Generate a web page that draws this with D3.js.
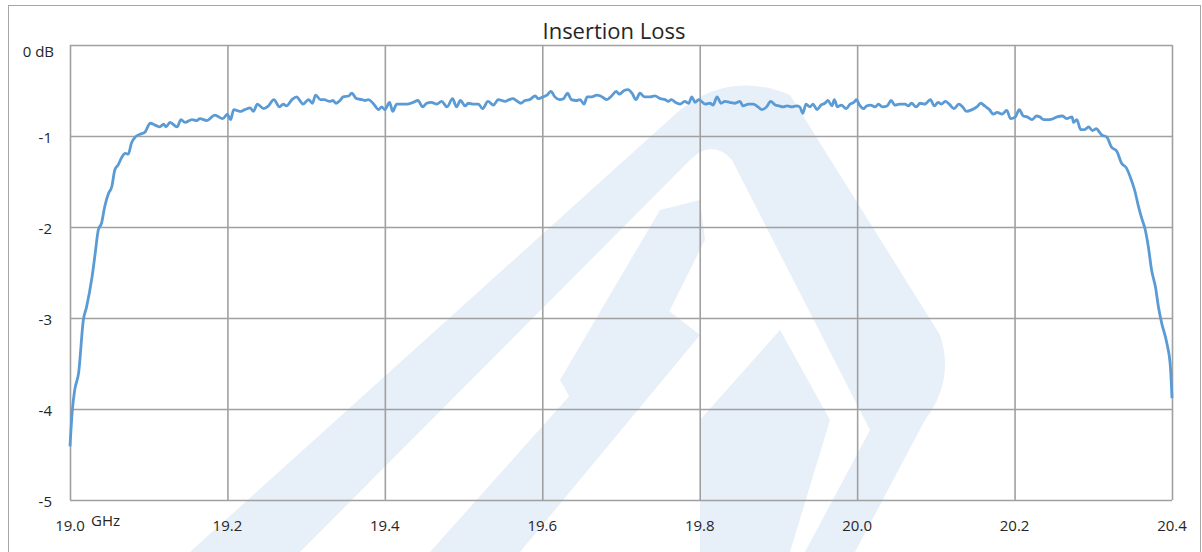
<!DOCTYPE html>
<html>
<head>
<meta charset="utf-8">
<script src="https://cdn.jsdelivr.net/npm/d3@7"></script>
<style>
  body { margin: 0; background: #fff; }
  svg text { font-family: "Open Sans", "Noto Sans", sans-serif; fill: #262626; }
</style>
</head>
<body>
<div id="chart"></div>
<script>
const freqGHz = [
  19.000,19.003,19.006,19.011,19.017,19.021,19.028,19.032,19.036,19.040,19.044,19.049,19.053,19.057,19.061,19.066,19.070,19.074,19.078,19.083,
  19.089,19.095,19.102,19.108,19.114,19.119,19.122,19.127,19.136,19.141,19.146,19.155,19.161,19.165,19.174,19.184,19.194,19.200,19.204,19.208,
  19.216,19.222,19.229,19.233,19.238,19.246,19.252,19.259,19.266,19.271,19.275,19.282,19.288,19.292,19.296,19.303,19.308,19.312,19.318,19.323,
  19.326,19.330,19.334,19.338,19.343,19.347,19.354,19.358,19.364,19.371,19.375,19.379,19.385,19.392,19.396,19.400,19.406,19.410,19.415,19.421,
  19.428,19.436,19.442,19.448,19.453,19.459,19.466,19.472,19.479,19.486,19.491,19.496,19.502,19.506,19.512,19.519,19.524,19.531,19.538,19.544,
  19.553,19.558,19.563,19.567,19.573,19.578,19.584,19.591,19.595,19.601,19.606,19.611,19.616,19.622,19.627,19.632,19.637,19.643,19.648,19.653,
  19.657,19.663,19.669,19.674,19.682,19.688,19.694,19.698,19.704,19.709,19.714,19.719,19.724,19.730,19.737,19.743,19.750,19.756,19.760,19.764,
  19.769,19.775,19.781,19.786,19.790,19.794,19.799,19.807,19.813,19.817,19.822,19.827,19.832,19.838,19.845,19.851,19.855,19.862,19.868,19.874,
  19.879,19.885,19.890,19.896,19.901,19.906,19.911,19.917,19.923,19.927,19.931,19.935,19.940,19.944,19.949,19.954,19.959,19.963,19.968,19.971,
  19.975,19.980,19.986,19.991,19.996,19.999,20.003,20.008,20.012,20.017,20.023,20.027,20.032,20.038,20.043,20.048,20.054,20.061,20.065,20.069,
  20.075,20.080,20.086,20.089,20.093,20.098,20.103,20.107,20.112,20.117,20.123,20.129,20.134,20.139,20.146,20.152,20.157,20.162,20.168,20.173,
  20.178,20.184,20.190,20.195,20.201,20.206,20.211,20.216,20.222,20.228,20.232,20.237,20.244,20.249,20.254,20.261,20.266,20.273,20.275,20.279,
  20.284,20.289,20.294,20.299,20.304,20.308,20.311,20.317,20.323,20.330,20.336,20.342,20.349,20.353,20.357,20.361,20.366,20.370,20.374,20.379,
  20.383,20.387,20.392,20.394,20.398,20.400
];
const lossDb = [
  -4.41,-4.01,-3.79,-3.60,-3.02,-2.88,-2.55,-2.29,-2.03,-1.96,-1.78,-1.63,-1.56,-1.37,-1.32,-1.23,-1.19,-1.20,-1.08,-1.01,
  -0.98,-0.96,-0.86,-0.88,-0.90,-0.87,-0.90,-0.85,-0.90,-0.82,-0.85,-0.82,-0.83,-0.81,-0.83,-0.77,-0.81,-0.76,-0.82,-0.71,
  -0.73,-0.71,-0.69,-0.73,-0.65,-0.70,-0.67,-0.60,-0.68,-0.65,-0.67,-0.60,-0.57,-0.61,-0.65,-0.60,-0.64,-0.55,-0.60,-0.60,
  -0.61,-0.62,-0.61,-0.64,-0.61,-0.57,-0.56,-0.53,-0.59,-0.60,-0.61,-0.60,-0.64,-0.71,-0.68,-0.71,-0.63,-0.73,-0.65,-0.65,
  -0.65,-0.63,-0.61,-0.68,-0.64,-0.63,-0.65,-0.62,-0.68,-0.59,-0.68,-0.61,-0.67,-0.64,-0.65,-0.65,-0.70,-0.62,-0.66,-0.60,
  -0.62,-0.60,-0.59,-0.61,-0.64,-0.61,-0.60,-0.56,-0.59,-0.57,-0.55,-0.51,-0.57,-0.60,-0.59,-0.53,-0.60,-0.61,-0.60,-0.65,
  -0.57,-0.57,-0.55,-0.56,-0.60,-0.56,-0.51,-0.54,-0.50,-0.49,-0.53,-0.60,-0.53,-0.57,-0.57,-0.56,-0.59,-0.60,-0.62,-0.60,
  -0.63,-0.65,-0.62,-0.64,-0.57,-0.63,-0.60,-0.65,-0.64,-0.66,-0.57,-0.64,-0.62,-0.63,-0.64,-0.62,-0.67,-0.65,-0.65,-0.68,
  -0.71,-0.68,-0.62,-0.66,-0.67,-0.68,-0.67,-0.68,-0.67,-0.68,-0.75,-0.65,-0.68,-0.65,-0.71,-0.66,-0.64,-0.61,-0.67,-0.60,
  -0.68,-0.66,-0.70,-0.65,-0.63,-0.60,-0.66,-0.70,-0.67,-0.66,-0.68,-0.65,-0.68,-0.67,-0.61,-0.66,-0.65,-0.65,-0.67,-0.64,
  -0.68,-0.64,-0.65,-0.63,-0.60,-0.67,-0.63,-0.65,-0.62,-0.65,-0.70,-0.65,-0.68,-0.73,-0.71,-0.68,-0.64,-0.67,-0.71,-0.76,
  -0.74,-0.76,-0.72,-0.81,-0.79,-0.71,-0.78,-0.79,-0.82,-0.78,-0.79,-0.82,-0.82,-0.81,-0.79,-0.78,-0.81,-0.79,-0.85,-0.82,
  -0.93,-0.93,-0.90,-0.94,-0.92,-0.96,-0.99,-1.01,-1.12,-1.17,-1.30,-1.35,-1.50,-1.61,-1.76,-1.89,-2.03,-2.22,-2.47,-2.66,
  -2.89,-3.06,-3.22,-3.30,-3.54,-3.88
];
const freqTicks = [19.0, 19.2, 19.4, 19.6, 19.8, 20.0, 20.2, 20.4];
const dbTicks = [0, -1, -2, -3, -4, -5];
const chartTitle = "Insertion Loss";

const width = 1202, height = 552;
const plot = { left: 70, right: 1172, top: 45, bottom: 500 };

const svg = d3.select("#chart").append("svg")
  .attr("width", width)
  .attr("height", height);

// faint logo watermark behind the plot
const wm = svg.append("g").attr("fill", "#e7eff8");
wm.append("path")
  .attr("d", "M190,552 L680,110 Q730,70 790,95 L940,335 Q955,380 925,420 L855,552 Z");
wm.append("path").attr("fill", "#fff")
  .attr("d", "M300,552 L690,160 Q712,138 732,160 L870,430 L805,552 Z");
wm.append("path")
  .attr("d", "M430,552 L655,300 L700,335 L520,552 Z");
wm.append("path")
  .attr("d", "M560,380 L660,210 L700,200 L705,240 L600,450 Z");
wm.append("path")
  .attr("d", "M700,420 L780,330 L830,420 L790,552 L700,552 Z");

// outer frame
svg.append("rect")
  .attr("x", 8.5).attr("y", 5.5)
  .attr("width", 1192).attr("height", 560)
  .attr("fill", "none")
  .attr("stroke", "#a6a6a6");

const x = d3.scaleLinear().domain([19, 20.4]).range([plot.left, plot.right]);
const y = d3.scaleLinear().domain([-5, 0]).range([plot.bottom, plot.top]);

// grid
const gx = svg.append("g")
  .attr("transform", `translate(0,${plot.bottom})`)
  .call(d3.axisBottom(x).tickValues(freqTicks).tickSize(-(plot.bottom - plot.top)).tickFormat(""));
const gy = svg.append("g")
  .attr("transform", `translate(${plot.left},0)`)
  .call(d3.axisLeft(y).tickValues(dbTicks).tickSize(-(plot.right - plot.left)).tickFormat(""));
[gx, gy].forEach(g => {
  g.select(".domain").remove();
  g.selectAll("line").attr("stroke", "#a0a0a0").attr("stroke-width", 1.6);
});

// curve
const line = d3.line()
  .x((d, i) => x(freqGHz[i]))
  .y(d => y(d))
  .curve(d3.curveMonotoneX);
svg.append("path")
  .datum(lossDb)
  .attr("d", line)
  .attr("fill", "none")
  .attr("stroke", "#5b9bd5")
  .attr("stroke-width", 2.8)
  .attr("stroke-linejoin", "round");

// tick labels
svg.append("g")
  .selectAll("text")
  .data(dbTicks)
  .enter().append("text")
  .attr("x", d => d === 0 ? 54 : 52)
  .attr("y", d => d === 0 ? y(d) + 6 : y(d) + 1)
  .attr("text-anchor", "end")
  .attr("dominant-baseline", "central")
  .attr("font-size", 15)
  .text(d => d === 0 ? "0 dB" : d);

svg.append("g")
  .selectAll("text")
  .data(freqTicks)
  .enter().append("text")
  .attr("x", d => x(d))
  .attr("y", 525)
  .attr("text-anchor", "middle")
  .attr("dominant-baseline", "central")
  .attr("font-size", 15)
  .text(d => d.toFixed(1));

svg.append("text")
  .attr("x", 91)
  .attr("y", 520)
  .attr("dominant-baseline", "central")
  .attr("font-size", 15)
  .text("GHz");

svg.append("text")
  .attr("x", 614)
  .attr("y", 30)
  .attr("text-anchor", "middle")
  .attr("dominant-baseline", "central")
  .attr("font-size", 22)
  .text(chartTitle);
</script>
</body>
</html>
